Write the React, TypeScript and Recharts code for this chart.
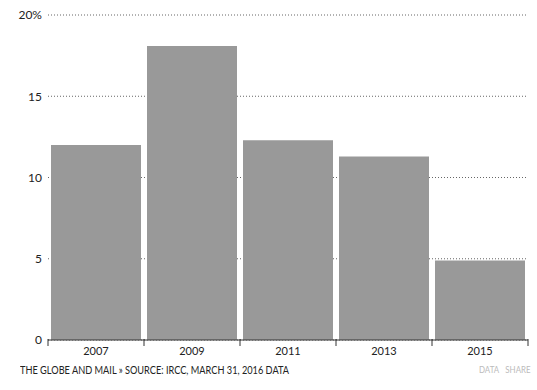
import React from 'react';
import { BarChart, Bar, XAxis, YAxis, CartesianGrid } from 'recharts';

// share of total, percent
const years = ['2007', '2009', '2011', '2013', '2015'];
const shares = [12.0, 18.1, 12.3, 11.3, 4.9];
const yTicks = [0, 5, 10, 15, 20];

const data = years.map((year, i) => ({ year, share: shares[i] }));

const FONT = 'Lato, "Open Sans", sans-serif';
const BAND = 96; // width of one category slot

function YearTick(props: any) {
  const { x, y, payload, index } = props;
  const last = index === years.length - 1;
  return (
    <g>
      <line x1={x - BAND / 2} x2={x - BAND / 2} y1={y - 1} y2={y + 6} stroke="#333" />
      {last && <line x1={x + BAND / 2} x2={x + BAND / 2} y1={y - 1} y2={y + 6} stroke="#333" />}
      <text x={x} y={y + 15} textAnchor="middle" fontSize={11} fill="#222" fontFamily={FONT}>
        {payload.value}
      </text>
    </g>
  );
}

export default function App() {
  return (
    <div style={{ position: 'absolute', left: 0, top: 0, width: 537, height: 390, background: '#fff' }}>
      <BarChart
        width={537}
        height={390}
        data={data}
        margin={{ top: 15, right: 9, left: 0, bottom: 0 }}
        barCategoryGap={3}
      >
        <CartesianGrid vertical={false} strokeDasharray="1 2" stroke="#666" />
        <XAxis
          dataKey="year"
          height={50}
          tickLine={false}
          tickSize={0}
          tickMargin={0}
          axisLine={{ stroke: '#333' }}
          tick={<YearTick />}
        />
        <YAxis
          width={48}
          domain={[0, 20]}
          ticks={yTicks}
          axisLine={false}
          tickLine={false}
          tickSize={0}
          tickMargin={6}
          tick={{ fontSize: 12, fill: '#222', fontFamily: FONT }}
          tickFormatter={(v: number) => (v === 20 ? '20%' : String(v))}
        />
        <Bar dataKey="share" fill="#999" isAnimationActive={false} />
      </BarChart>
      <div
        style={{
          position: 'absolute', left: 20, top: 363, fontFamily: FONT, fontSize: 11.5,
          color: '#222', whiteSpace: 'nowrap', transform: 'scaleX(0.8)', transformOrigin: 'left top',
        }}
      >
        THE GLOBE AND MAIL » SOURCE: IRCC, MARCH 31, 2016 DATA
      </div>
      <div
        style={{
          position: 'absolute', left: 479, top: 364, fontFamily: FONT, fontSize: 9,
          color: '#bbb', whiteSpace: 'nowrap', wordSpacing: 5,
          transform: 'scaleX(0.88)', transformOrigin: 'left top',
        }}
      >
        DATA SHARE
      </div>
    </div>
  );
}
